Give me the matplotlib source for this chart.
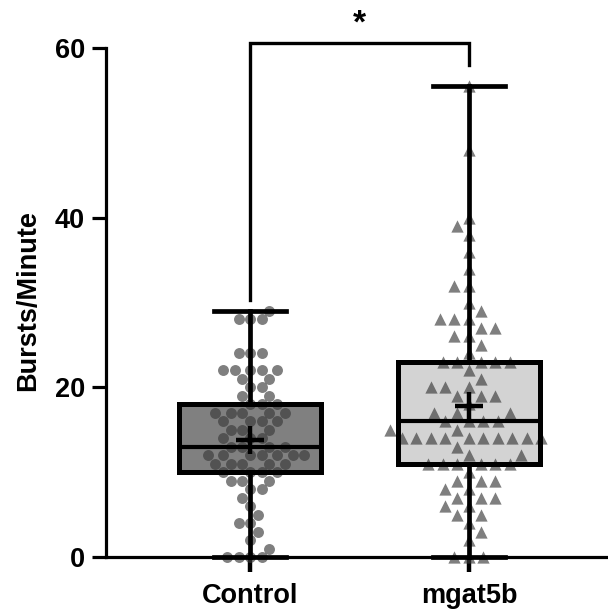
import numpy as np
import matplotlib.pyplot as plt

plt.rcParams['font.family'] = ['Liberation Sans', 'DejaVu Sans']
plt.rcParams['font.weight'] = 'bold'

groups = ["Control", "mgat5b"]

# bursts per minute (one entry per fish)
control = [0, 0, 0, 0, 1, 2, 3, 4, 4, 5, 6, 7, 8, 8, 9, 9, 9,
           10, 10, 10, 10, 11, 11, 11, 11, 11,
           12, 12, 12, 12, 12, 12, 12, 13, 13, 13, 13,
           14, 14, 14, 15, 15, 15, 16, 16, 16, 16,
           17, 17, 17, 17, 17, 18, 18, 18, 19, 19, 20, 20, 21, 21,
           22, 22, 22, 22, 22, 24, 24, 24, 28, 28, 28, 29]
mgat5b = [0, 0, 0, 2, 3, 4, 5, 5, 6, 6, 7, 7, 7, 8, 8, 9, 9, 9, 10,
          11, 11, 11, 11, 11, 11, 12, 12, 13,
          14, 14, 14, 14, 14, 14, 14, 14, 14, 14, 15, 15,
          16, 16, 16, 16, 17, 17, 17, 18, 19, 19, 19, 20, 20, 20,
          21, 22, 23, 23, 23, 23, 23, 24, 25, 26, 26, 27, 27,
          28, 28, 28, 29, 30, 32, 32, 34, 36, 38, 39, 40, 48, 55.5]
data = [control, mgat5b]
markers = ["o", "^"]
box_colors = ["#808080", "#d3d3d3"]
signif = "*"

fig = plt.figure(figsize=(6.08, 6.11), dpi=100)
ax = fig.add_axes([106 / 608, 54 / 611, 502 / 608, 557 / 611])
pos = [0, 1]
px_x = 219.0   # pixels per category unit
px_y = 557 / 65.66

ax.set_xlim(-0.658, 1.635)
ax.set_ylim(0, 65.66)


def swarm(vals, d):
    # simple beeswarm in pixel space
    order = np.argsort(vals, kind="stable")
    placed = []
    offs = np.zeros(len(vals))
    for n, i in enumerate(order):
        y = vals[i] * px_y
        cands = [0.0]
        blocks = []
        for (xj, yj) in placed:
            dy = abs(y - yj)
            if dy < d:
                w = np.sqrt(d * d - dy * dy)
                blocks.append((xj - w, xj + w))
                cands += [xj - w, xj + w]
        good = [c for c in cands if all(not (a + 1e-6 < c < b - 1e-6) for a, b in blocks)]
        sgn = 1 if n % 2 == 0 else -1
        best = min(good, key=lambda c: (round(abs(c), 3), -sgn * c))
        placed.append((best, y))
        offs[i] = best
    return offs / px_x


common = dict(positions=pos, widths=0.65, whis=(0, 100), showmeans=True,
              capwidths=0.33, showfliers=False)

# box fills
b1 = ax.boxplot(data, patch_artist=True, zorder=1, **common)
for patch, c in zip(b1["boxes"], box_colors):
    patch.set_facecolor(c)
    patch.set_edgecolor("none")
for k in ["whiskers", "caps", "medians", "means"]:
    for a in b1[k]:
        a.set_visible(False)

# points
for p, vals, m, d, s in zip(pos, data, markers, [11.5, 14.5], [62, 78]):
    vals = np.array(vals, dtype=float)
    ax.scatter(p + swarm(vals, d), vals, marker=m, s=s, color="#3a3a3a",
               alpha=0.65, linewidths=0, zorder=2, clip_on=False)

# outlines
b2 = ax.boxplot(data, patch_artist=True, zorder=3,
                boxprops=dict(facecolor="none", edgecolor="black", linewidth=3.6),
                whiskerprops=dict(color="black", linewidth=3.4),
                capprops=dict(color="black", linewidth=3.4),
                medianprops=dict(color="black", linewidth=3.0),
                meanprops=dict(marker="+", markersize=20, markeredgewidth=3.2,
                               markeredgecolor="black"),
                **common)
for k in ["whiskers", "caps", "medians", "means", "boxes"]:
    for a in b2[k]:
        a.set_clip_on(False)

# significance bracket
ax.plot([0, 0, 1, 1], [30.3, 60.6, 60.6, 58.0], color="black", lw=2.4,
        clip_on=False, zorder=4, solid_joinstyle="miter")
ax.text(0.5, 62.8, signif, ha="center", va="center", fontsize=24,
        fontweight="bold")

ax.spines["top"].set_visible(False)
ax.spines["right"].set_visible(False)
ax.spines["left"].set_linewidth(2.3)
ax.spines["bottom"].set_linewidth(2.3)
ax.spines["left"].set_bounds(0, 60)

ax.set_yticks([0, 20, 40, 60])
ax.set_xticks(pos)
ax.set_xticklabels(groups, fontsize=19.5, fontweight="bold")
ax.tick_params(axis="y", length=10, width=2.3, labelsize=19.5, pad=5)
ax.tick_params(axis="x", length=11, width=3.2, pad=8)
ax.set_ylabel("Bursts/Minute", fontsize=19.5, fontweight="bold")
ax.yaxis.set_label_coords(-0.13, 0.46)

fig.savefig("out.png", dpi=100)
